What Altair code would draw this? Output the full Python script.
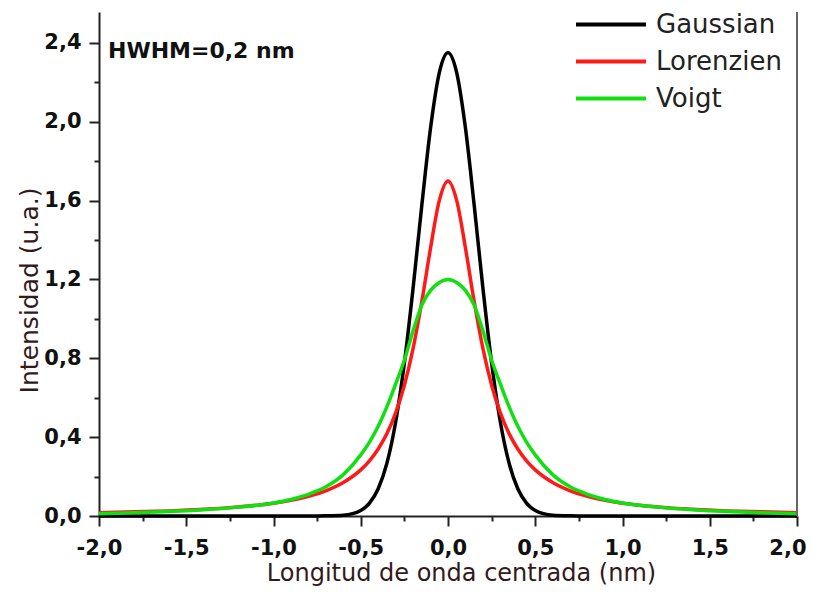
import altair as alt
import pandas as pd

# ---- data ----
x_vals = [-2.0, -1.8, -1.6, -1.4, -1.2, -1.0, -0.9, -0.8, -0.7, -0.6, -0.5, -0.45, -0.4, -0.35, -0.3,
          -0.25, -0.2, -0.15, -0.1, -0.05, 0.0, 0.05, 0.1, 0.15, 0.2, 0.25, 0.3, 0.35, 0.4, 0.45,
          0.5, 0.6, 0.7, 0.8, 0.9, 1.0, 1.2, 1.4, 1.6, 1.8, 2.0]

gaussian = [0.0, 0.0, 0.0, 0.0, 0.0, 0.0, 0.0, 0.0, 0.001, 0.004, 0.028, 0.065, 0.138, 0.268, 0.477,
            0.776, 1.157, 1.577, 1.968, 2.248, 2.350, 2.248, 1.968, 1.577, 1.157, 0.776, 0.477, 0.268, 0.138, 0.065,
            0.028, 0.004, 0.001, 0.0, 0.0, 0.0, 0.0, 0.0, 0.0, 0.0, 0.0]

lorentzien = [0.017, 0.021, 0.026, 0.034, 0.046, 0.065, 0.080, 0.100, 0.128, 0.170, 0.234, 0.280, 0.340, 0.418, 0.523,
              0.663, 0.850, 1.088, 1.360, 1.600, 1.700, 1.600, 1.360, 1.088, 0.850, 0.663, 0.523, 0.418, 0.340, 0.280,
              0.234, 0.170, 0.128, 0.100, 0.080, 0.065, 0.046, 0.034, 0.026, 0.021, 0.017]

voigt = [0.012, 0.017, 0.023, 0.032, 0.045, 0.066, 0.084, 0.110, 0.148, 0.210, 0.310, 0.375, 0.455, 0.555, 0.670,
         0.790, 0.940, 1.070, 1.145, 1.185, 1.200, 1.185, 1.145, 1.070, 0.940, 0.790, 0.670, 0.555, 0.455, 0.375,
         0.310, 0.210, 0.148, 0.110, 0.084, 0.066, 0.045, 0.032, 0.023, 0.017, 0.012]

series_names = ["Gaussian", "Lorenzien", "Voigt"]
series_colors = ["#000000", "#ff1a1a", "#10e010"]

x_ticks = [-2.0, -1.75, -1.5, -1.25, -1.0, -0.75, -0.5, -0.25, 0.0, 0.25, 0.5, 0.75, 1.0, 1.25, 1.5, 1.75, 2.0]
y_ticks = [0.0, 0.2, 0.4, 0.6, 0.8, 1.0, 1.2, 1.4, 1.6, 1.8, 2.0, 2.2, 2.4]
x_domain = [-2.0, 2.0]
y_domain = [0.0, 2.557]

annotation = "HWHM=0,2 nm"
x_title = "Longitud de onda centrada (nm)"
y_title = "Intensidad (u.a.)"

# ---- build table ----
rows = []
for name, vals in zip(series_names, [gaussian, lorentzien, voigt]):
    for xv, yv in zip(x_vals, vals):
        rows.append({"x": xv, "y": yv, "serie": name})
df = pd.DataFrame(rows)

FONT = "DejaVu Sans"
TITLE_COLOR = "#331a1a"

x_minor = "abs(datum.value*2 - round(datum.value*2)) > 0.01"
y_minor = "abs(datum.value/0.4 - round(datum.value/0.4)) > 0.01"
x_last = "datum.value > 1.99"

def lab(minor):
    return (f"{minor} ? '' : (datum.value < 0 ? '-' : '') + "
            "replace(format(abs(datum.value), '.1f'), '.', ',')")

x_axis = alt.Axis(
    values=x_ticks, labelExpr=lab(x_minor), labelOverlap=False, labelFlush=False,
    labelAlign={"condition": {"test": x_last, "value": "right"}, "value": "center"},
    labelOffset={"condition": {"test": x_last, "value": 9}, "value": 0},
    tickSize={"condition": {"test": x_minor, "value": 5}, "value": 10},
    labelFont=FONT, labelFontSize=21, labelFontWeight="bold", labelColor="#111",
    labelPadding=11, grid=False,
    title=x_title, titleFont=FONT, titleFontSize=24, titleFontWeight="normal",
    titleColor=TITLE_COLOR, titleX=362, titleY=64, titleBaseline="alphabetic", titleAlign="center",
)
y_axis = alt.Axis(
    values=y_ticks, labelExpr=lab(y_minor), labelOverlap=False, labelFlush=False,
    tickSize={"condition": {"test": y_minor, "value": 5}, "value": 10},
    labelFont=FONT, labelFontSize=21, labelFontWeight="bold", labelColor="#111",
    labelPadding=8, grid=False,
    title=y_title, titleFont=FONT, titleFontSize=25, titleFontWeight="normal",
    titleColor=TITLE_COLOR, titleX=-70, titleY=278, titleBaseline="middle", titleAlign="center",
    titleAngle=270,
)

lines = alt.Chart(df).mark_line(strokeWidth=3.5, interpolate="monotone").encode(
    x=alt.X("x:Q", scale=alt.Scale(domain=x_domain, nice=False, zero=False), axis=x_axis),
    y=alt.Y("y:Q", scale=alt.Scale(domain=y_domain, nice=False), axis=y_axis),
    color=alt.Color(
        "serie:N",
        scale=alt.Scale(domain=series_names, range=series_colors),
        legend=alt.Legend(
            title=None, orient="none", legendX=475, legendY=-6,
            symbolType="stroke", symbolSize=4900, symbolStrokeWidth=4,
            clipHeight=37, rowPadding=0, padding=0, labelOffset=8,
            labelFont=FONT, labelFontSize=26, labelColor="#222",
        ),
    ),
    order=alt.Order("serie:N"),
)

border = alt.Chart(pd.DataFrame({"x": [x_domain[1]]})).mark_rule(
    color="#666666", strokeWidth=2
).encode(x=alt.X("x:Q"))

note = alt.Chart(pd.DataFrame({"t": [annotation]})).mark_text(
    align="left", baseline="middle", font=FONT, fontSize=22, fontWeight="bold", color="#111"
).encode(text="t:N", x=alt.value(9), y=alt.value(39))

chart = alt.layer(lines, border, note).properties(
    width=698, height=504,
    autosize=alt.AutoSizeParams(type="none"),
    padding={"left": 91, "top": 4, "right": 9, "bottom": 70},
    background="white",
).configure_view(stroke=None).configure_axis(
    domainColor="#222", domainWidth=2, tickColor="#222", tickWidth=2
)

chart.save("out.html", embed_options={"renderer": "svg", "actions": False})
